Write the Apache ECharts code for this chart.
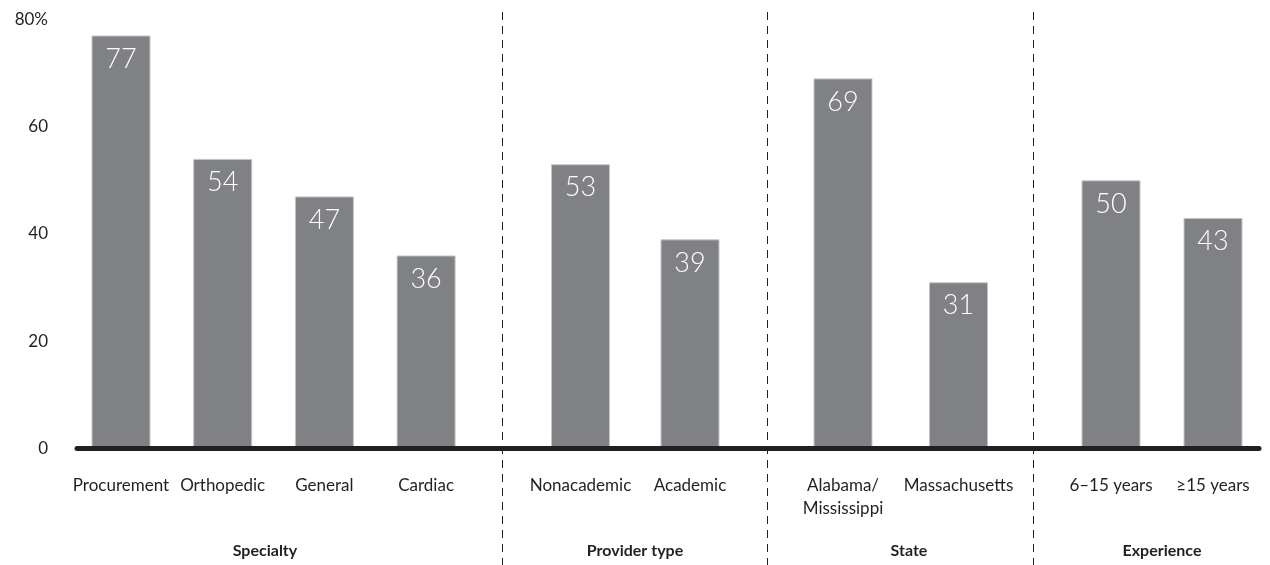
<!DOCTYPE html>
<html>
<head>
<meta charset="utf-8">
<script src="https://cdn.jsdelivr.net/npm/echarts@6/dist/echarts.min.js"></script>
<style>
html,body{margin:0;padding:0;background:#fff;}
#chart{width:1270px;height:565px;}
</style>
</head>
<body>
<div id="chart"></div>
<script>
// ---- data ----
const specialtyCats = ['Procurement', 'Orthopedic', 'General', 'Cardiac'];
const specialtyVals = [77, 54, 47, 36];
const providerCats = ['Nonacademic', 'Academic'];
const providerVals = [53, 39];
const stateCats = ['Alabama/\nMississippi', 'Massachusetts'];
const stateVals = [69, 31];
const experienceCats = ['6–15 years', '≥15 years'];
const experienceVals = [50, 43];
const groupNames = ['Specialty', 'Provider type', 'State', 'Experience'];
const yMin = 0, yMax = 80, yInterval = 20;

// ---- layout ----
const FONT = 'Lato, "Open Sans", sans-serif';
const INK = '#231f20';
const BAR = '#808184';
const TOP = 19.4, BOTTOM = 116.4;
const groupGrids = [
  {left: 70.15, width: 406.8},
  {left: 525.75, width: 219},
  {left: 785.25, width: 231},
  {left: 1060, width: 204}
];
const groupLabelX = [265, 635, 909, 1162];
const dividerX = [502.5, 767.5, 1033.5];
const groups = [
  [specialtyCats, specialtyVals],
  [providerCats, providerVals],
  [stateCats, stateVals],
  [experienceCats, experienceVals]
];

const grid = [{left: 77, right: 11, top: TOP, bottom: BOTTOM}];
const xAxis = [{
  gridIndex: 0, type: 'value', min: 0, max: 1, z: 10,
  axisLine: {show: true, lineStyle: {color: INK, width: 5}},
  axisTick: {show: false}, axisLabel: {show: false}, splitLine: {show: false}
}];
const yAxis = [{
  gridIndex: 0, type: 'value', min: yMin, max: yMax, interval: yInterval,
  axisLine: {show: false}, axisTick: {show: false}, splitLine: {show: false},
  axisLabel: {
    margin: 29, fontFamily: FONT, fontSize: 17, color: INK,
    formatter: v => v === yMax ? v + '%' : String(v)
  }
}];
const series = [];
groups.forEach((g, i) => {
  const gi = i + 1;
  grid.push({left: groupGrids[i].left, width: groupGrids[i].width, top: TOP, bottom: BOTTOM});
  xAxis.push({
    gridIndex: gi, type: 'category', data: g[0],
    axisLine: {show: false}, axisTick: {show: false}, splitLine: {show: false},
    axisLabel: {
      interval: 0, margin: 25, fontFamily: FONT, fontSize: 17, color: INK,
      lineHeight: 23, verticalAlign: 'top'
    }
  });
  yAxis.push({
    gridIndex: gi, type: 'value', min: yMin, max: yMax, interval: yInterval, show: false
  });
  series.push({
    type: 'bar', xAxisIndex: gi, yAxisIndex: gi, data: g[1],
    barWidth: 59,
    itemStyle: {color: BAR, borderColor: '#c4c5c7', borderWidth: 1},
    label: {
      show: true, position: 'insideTop', distance: 10, color: '#ffffff',
      fontFamily: FONT, fontSize: 27, fontWeight: 300
    },
    silent: true, animation: false
  });
});

const graphic = [];
dividerX.forEach(x => {
  graphic.push({
    type: 'line', z: 20,
    shape: {x1: x, y1: 12, x2: x, y2: 565},
    style: {stroke: INK, lineWidth: 1, lineDash: [8, 6]}
  });
});
groupNames.forEach((n, i) => {
  graphic.push({
    type: 'text', z: 20, x: groupLabelX[i], y: 551,
    style: {
      text: n, fill: INK, font: 'bold 16px ' + FONT,
      textAlign: 'center', textVerticalAlign: 'middle'
    }
  });
});

const chart = echarts.init(document.getElementById('chart'), null, {renderer: 'canvas'});
chart.setOption({
  animation: false,
  backgroundColor: '#ffffff',
  grid, xAxis, yAxis, series, graphic
});
</script>
</body>
</html>
